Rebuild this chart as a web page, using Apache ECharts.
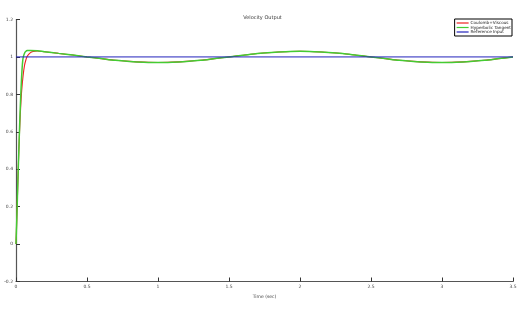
<!DOCTYPE html>
<html><head><meta charset="utf-8">
<script src="https://cdn.jsdelivr.net/npm/echarts@6/dist/echarts.min.js"></script>
<style>html,body{margin:0;padding:0;background:#fff}#c{width:525px;height:310px}</style>
</head><body><div id="c"></div>
<script>
var title = "Velocity Output";
var xLabel = "Time (sec)";
var yLabel = "Amplitude";
var seriesNames = ["Coulomb+Viscous", "Hyperbolic Tangent", "Reference Input"];
var xTicks = [0, 0.5, 1, 1.5, 2, 2.5, 3, 3.5];
var yTicks = [-0.2, 0, 0.2, 0.4, 0.6, 0.8, 1, 1.2];

var tGreen = [0, 0.005, 0.01, 0.015, 0.02, 0.025, 0.03, 0.035, 0.04, 0.045, 0.05, 0.06, 0.07, 0.08, 0.1, 0.15, 0.2, 0.3, 0.4, 0.5, 0.6, 0.7, 0.8, 0.9, 1.0, 1.1, 1.2, 1.3, 1.4, 1.5, 1.6, 1.7, 1.8, 1.9, 2.0, 2.1, 2.2, 2.3, 2.4, 2.5, 2.6, 2.7, 2.8, 2.9, 3.0, 3.1, 3.2, 3.3, 3.4, 3.5];
var yGreen = [0, 0.12, 0.25, 0.38, 0.5, 0.62, 0.73, 0.82, 0.9, 0.96, 0.995, 1.02, 1.03, 1.034, 1.035, 1.033, 1.028, 1.019, 1.01, 1.0, 0.991, 0.982, 0.976, 0.972, 0.970, 0.972, 0.976, 0.982, 0.991, 1.0, 1.009, 1.018, 1.024, 1.028, 1.030, 1.028, 1.024, 1.018, 1.009, 1.0, 0.991, 0.982, 0.976, 0.972, 0.970, 0.972, 0.976, 0.982, 0.991, 1.0];

var tRed = [0, 0.005, 0.01, 0.015, 0.02, 0.025, 0.03, 0.035, 0.04, 0.05, 0.06, 0.07, 0.08, 0.1, 0.12, 0.15, 0.2, 0.3, 0.4, 0.5, 0.6, 0.7, 0.8, 0.9, 1.0, 1.1, 1.2, 1.3, 1.4, 1.5, 1.6, 1.7, 1.8, 1.9, 2.0, 2.1, 2.2, 2.3, 2.4, 2.5, 2.6, 2.7, 2.8, 2.9, 3.0, 3.1, 3.2, 3.3, 3.4, 3.5];
var yRed = [0, 0.12, 0.25, 0.38, 0.5, 0.6, 0.69, 0.76, 0.82, 0.9, 0.955, 0.985, 1.005, 1.022, 1.029, 1.032, 1.028, 1.019, 1.01, 1.0, 0.991, 0.982, 0.976, 0.972, 0.970, 0.972, 0.976, 0.982, 0.991, 1.0, 1.009, 1.018, 1.024, 1.028, 1.030, 1.028, 1.024, 1.018, 1.009, 1.0, 0.991, 0.982, 0.976, 0.972, 0.970, 0.972, 0.976, 0.982, 0.991, 1.0];

var tRef = [0, 3.5];
var yRef = [1, 1];

function pairs(t, y) { return t.map(function (v, i) { return [v, y[i]]; }); }

var chart = echarts.init(document.getElementById('c'), null, {renderer: 'canvas'});
var axisCol = '#555';
var lblStyle = {fontSize: 4.5, color: '#444', fontFamily: 'DejaVu Sans'};
chart.setOption({
  animation: false,
  title: {text: title, left: 'center', top: 10, textStyle: {fontSize: 5, fontWeight: 'normal', color: '#333', fontFamily: 'DejaVu Sans'}},
  grid: {left: 16, right: 12, top: 19.5, bottom: 28.5, containLabel: false, outerBoundsMode: 'none'},
  legend: {
    orient: 'vertical', right: 13, top: 19, itemGap: 0.5, itemWidth: 12, itemHeight: 1.2,
    icon: 'rect', padding: [2, 1, 2, 2], borderColor: '#000', borderWidth: 1, backgroundColor: '#fff',
    textStyle: {fontSize: 4.2, color: '#222', fontFamily: 'DejaVu Sans', padding: [0, 0, 0, -3]},
    data: seriesNames
  },
  xAxis: {
    type: 'value', min: 0, max: 3.5, interval: 0.5,
    name: xLabel, nameLocation: 'middle', nameGap: 10,
    nameTextStyle: lblStyle,
    axisLine: {onZero: false, lineStyle: {color: axisCol, width: 1.2}},
    axisTick: {inside: true, length: 4, lineStyle: {color: '#333'}},
    axisLabel: Object.assign({margin: 3, formatter: function (v) { return String(v); }}, lblStyle),
    splitLine: {show: false}
  },
  yAxis: {
    type: 'value', min: -0.2, max: 1.2, interval: 0.2,
    name: yLabel, nameLocation: 'middle', nameGap: 10, nameRotate: 90,
    nameTextStyle: lblStyle,
    axisLine: {show: true, onZero: false, lineStyle: {color: axisCol, width: 1.2}},
    axisTick: {show: true, inside: true, length: 4, lineStyle: {color: '#333'}},
    axisLabel: Object.assign({margin: 3, formatter: function (v) { return String(Math.round(v * 10) / 10); }}, lblStyle),
    splitLine: {show: false}
  },
  series: [
    {name: seriesNames[0], type: 'line', data: pairs(tRed, yRed), showSymbol: false, smooth: 0.3, color: '#ee2222', lineStyle: {width: 1.1}, z: 2},
    {name: seriesNames[1], type: 'line', data: pairs(tGreen, yGreen), showSymbol: false, smooth: 0.3, color: '#44cc33', lineStyle: {width: 1.5}, z: 3},
    {name: seriesNames[2], type: 'line', data: pairs(tRef, yRef), showSymbol: false, color: '#2222bb', lineStyle: {width: 1}, z: 4}
  ]
});
</script></body></html>
